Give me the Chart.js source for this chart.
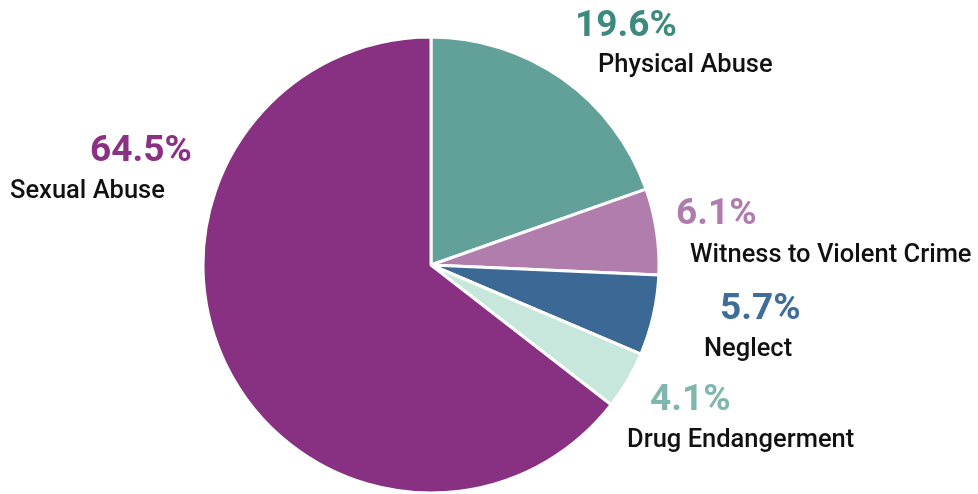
<!DOCTYPE html>
<html>
<head>
<meta charset="utf-8">
<script src="https://cdn.jsdelivr.net/npm/chart.js@4"></script>
<style>
  html, body { margin: 0; padding: 0; background: #ffffff; }
  #wrap { width: 978px; height: 494px; position: relative; }
</style>
</head>
<body>
<div id="wrap"><canvas id="c"></canvas></div>
<script>
const categories = ["Physical Abuse", "Witness to Violent Crime", "Neglect", "Drug Endangerment", "Sexual Abuse"];
const values = [19.6, 6.1, 5.7, 4.1, 64.5];
const percentLabels = ["19.6%", "6.1%", "5.7%", "4.1%", "64.5%"];

const sliceColors = ["#62a09a", "#b07dad", "#3b6894", "#c7e6dc", "#883082"];
const percentColors = ["#3e8a7e", "#b07cae", "#3e6d97", "#7fb6ad", "#8a3184"];

// Label layout (left x, baseline y of percent; left x, baseline y of name)
const labelLayout = [
  { px: 575, py: 36, nx: 598, ny: 72 },
  { px: 676, py: 224, nx: 690, ny: 262 },
  { px: 720, py: 319, nx: 704, ny: 356 },
  { px: 650, py: 410, nx: 627, ny: 447 },
  { px: 90, py: 161, nx: 10, ny: 198 }
];

const labelPlugin = {
  id: 'sliceLabels',
  afterDraw(chart) {
    const ctx = chart.ctx;
    ctx.save();
    ctx.textAlign = 'left';
    ctx.textBaseline = 'alphabetic';
    categories.forEach((name, i) => {
      const L = labelLayout[i];
      ctx.fillStyle = percentColors[i];
      ctx.font = 'bold 37px Roboto';
      ctx.fillText(percentLabels[i], L.px, L.py);
      ctx.fillStyle = '#111111';
      ctx.font = '500 25.5px Roboto';
      ctx.fillText(name, L.nx, L.ny);
    });
    ctx.restore();
  }
};

new Chart(document.getElementById('c'), {
  type: 'pie',
  data: {
    labels: categories,
    datasets: [{
      data: values,
      backgroundColor: sliceColors,
      borderColor: '#ffffff',
      borderWidth: 3,
      radius: 228
    }]
  },
  options: {
    responsive: true,
    maintainAspectRatio: false,
    animation: false,
    layout: { padding: { left: 0, right: 116, top: 36, bottom: 0 } },
    plugins: {
      legend: { display: false },
      tooltip: { enabled: false }
    }
  },
  plugins: [labelPlugin]
});
</script>
</body>
</html>
